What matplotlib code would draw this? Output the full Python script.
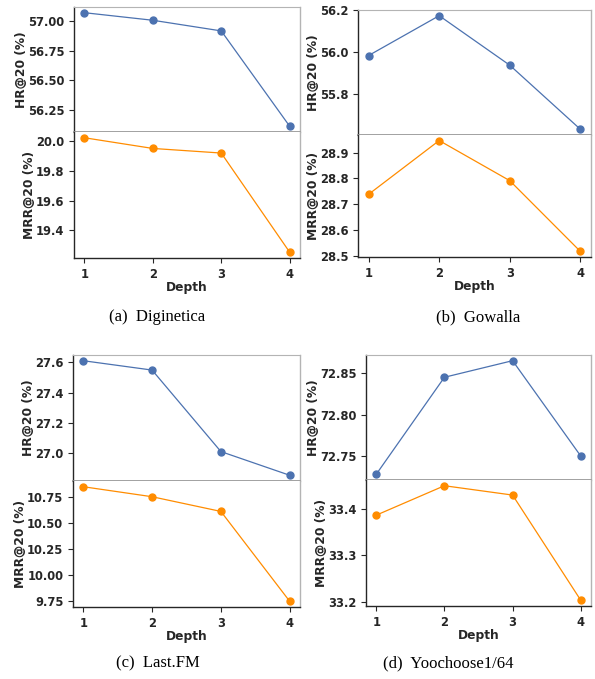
import matplotlib
matplotlib.use("Agg")
import matplotlib.pyplot as plt

depth = [1, 2, 3, 4]

datasets = ["Diginetica", "Gowalla", "Last.FM", "Yoochoose1/64"]
letters = ["a", "b", "c", "d"]

hr_diginetica = [57.07, 57.006, 56.916, 56.11]
mrr_diginetica = [20.022, 19.95, 19.919, 19.252]

hr_gowalla = [55.984, 56.173, 55.938, 55.634]
mrr_gowalla = [28.738, 28.947, 28.791, 28.516]

hr_lastfm = [27.611, 27.549, 27.009, 26.852]
mrr_lastfm = [10.846, 10.75, 10.609, 9.747]

hr_yoo = [72.728, 72.845, 72.865, 72.750]
mrr_yoo = [33.386, 33.449, 33.429, 33.204]

hr_all = [hr_diginetica, hr_gowalla, hr_lastfm, hr_yoo]
mrr_all = [mrr_diginetica, mrr_gowalla, mrr_lastfm, mrr_yoo]

hr_ticks = [[56.25, 56.50, 56.75, 57.00], [55.8, 56.0, 56.2], [27.0, 27.2, 27.4, 27.6], [72.75, 72.80, 72.85]]
mrr_ticks = [[19.4, 19.6, 19.8, 20.0], [28.5, 28.6, 28.7, 28.8, 28.9], [9.75, 10.00, 10.25, 10.50, 10.75], [33.2, 33.3, 33.4]]
hr_fmt = ["%.2f", "%.1f", "%.1f", "%.2f"]
mrr_fmt = ["%.1f", "%.1f", "%.2f", "%.1f"]

W, H = 595, 679
fig = plt.figure(figsize=(W / 100, H / 100), dpi=100)

# (left, right, top, sep, bottom) in pixels
boxes = [(74, 300, 7, 132, 258), (358, 591, 10, 135, 257),
         (73, 300, 355, 481, 607), (366, 591, 355, 480, 606)]
captions_pos = [(157, 317), (478, 317), (158, 663), (448, 663)]

BLUE = "#4c72b0"
ORANGE = "#ff8c00"
DARK = "#262626"
LIGHT = "#b4b4b4"
SEP = "#9a9a9a"
TICKFS = 8.3
LABFS = 8.8

for i in range(4):
    l, r, t, s, b = boxes[i]
    ax1 = fig.add_axes([l / W, 1 - s / H, (r - l) / W, (s - t) / H])
    ax2 = fig.add_axes([l / W, 1 - b / H, (r - l) / W, (b - s) / H], sharex=ax1)

    ax1.plot(depth, hr_all[i], color=BLUE, lw=0.9, marker="o", ms=5)
    ax2.plot(depth, mrr_all[i], color=ORANGE, lw=0.9, marker="o", ms=5)

    ax1.set_yticks(hr_ticks[i])
    ax1.set_yticklabels([hr_fmt[i] % v for v in hr_ticks[i]])
    ax2.set_yticks(mrr_ticks[i])
    ax2.set_yticklabels([mrr_fmt[i] % v for v in mrr_ticks[i]])
    ax2.set_xticks(depth)
    ax2.set_xticklabels([str(d) for d in depth])
    ax1.tick_params(axis="x", bottom=False, labelbottom=False)

    for ax in (ax1, ax2):
        ax.tick_params(axis="both", labelsize=TICKFS, colors=DARK, length=3.5, width=0.8, direction="out")
        for lab in ax.get_yticklabels() + ax.get_xticklabels():
            lab.set_fontweight("bold")
        ax.spines["left"].set_color(DARK)
        ax.spines["right"].set_color(LIGHT)
        ax.spines["top"].set_color(LIGHT)
        ax.spines["left"].set_linewidth(1.0)
        ax.spines["right"].set_linewidth(1.0)
    ax1.spines["bottom"].set_color(SEP)
    ax1.spines["bottom"].set_linewidth(1.3)
    ax2.spines["top"].set_visible(False)
    ax2.spines["bottom"].set_color(DARK)
    ax2.spines["bottom"].set_linewidth(1.0)

    ax1.set_ylabel("HR@20 (%)", fontsize=LABFS, fontweight="bold", color=DARK, labelpad=0)
    ax2.set_ylabel("MRR@20 (%)", fontsize=LABFS, fontweight="bold", color=DARK, labelpad=0)
    ax2.set_xlabel("Depth", fontsize=LABFS, fontweight="bold", color=DARK, labelpad=0.5)

    cx, cy = captions_pos[i]
    fig.text(cx / W, 1 - cy / H, "(%s)  %s" % (letters[i], datasets[i]),
             ha="center", va="center", fontsize=12, family="Liberation Serif", color="black")

fig.savefig("out.png", dpi=100)
